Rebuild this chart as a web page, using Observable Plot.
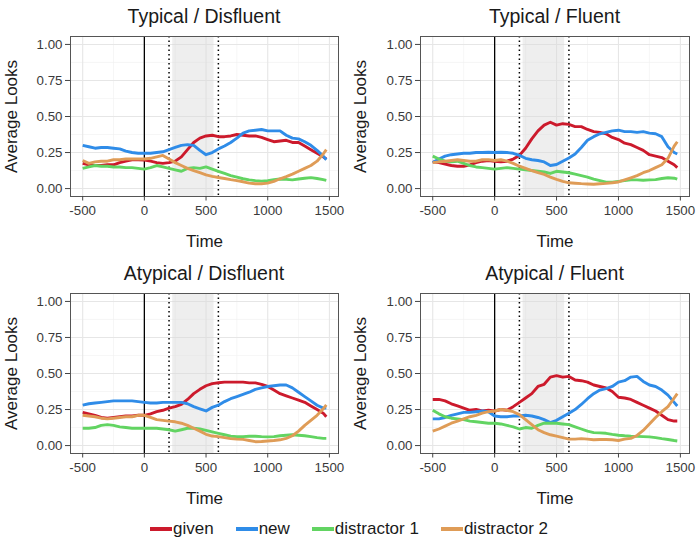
<!DOCTYPE html>
<html><head><meta charset="utf-8">
<script src="https://cdn.jsdelivr.net/npm/d3@7"></script>
<script src="https://cdn.jsdelivr.net/npm/@observablehq/plot@0.6"></script>
<style>
body{margin:0;background:#fff;font-family:"Liberation Sans",Arial,sans-serif;}
#wrap{position:relative;width:698px;height:539px;overflow:hidden;background:#fff;}
.panel{position:absolute;width:349px;height:257px;}
.ptitle{position:absolute;top:5px;font-size:19.5px;line-height:22px;color:#1a1a1a;white-space:nowrap;transform:translateX(-50%);}
.panel svg{position:absolute;top:30px;left:0;}
#legend{position:absolute;top:519px;left:0;width:698px;height:20px;display:flex;justify-content:center;align-items:center;font-size:17px;line-height:20px;color:#1a1a1a;}
.item{display:flex;align-items:center;margin:0 11px;}
.key{display:inline-block;width:22px;height:3.5px;margin-right:1px;}
</style></head>
<body><div id="wrap"></div>
<script>
// ---- data ----
const panels = ["Typical / Disfluent", "Typical / Fluent", "Atypical / Disfluent", "Atypical / Fluent"];
const seriesNames = ["given", "new", "distractor 1", "distractor 2"];
const seriesColors = ["#cc1a2c", "#2f8ce8", "#62d462", "#df9c57"];
const time = [-500,-450,-400,-350,-300,-250,-200,-150,-100,-50,0,50,100,150,200,250,300,350,400,450,500,550,600,650,700,750,800,850,900,950,1000,1050,1100,1150,1200,1250,1300,1350,1400,1450,1475];

const typDisGiven = [.175,.165,.16,.16,.165,.165,.18,.19,.20,.20,.197,.19,.18,.175,.18,.19,.22,.27,.32,.35,.365,.37,.36,.36,.365,.375,.37,.365,.365,.355,.34,.325,.33,.335,.32,.32,.295,.27,.245,.22,.205];
const typDisNew = [.30,.29,.28,.285,.285,.28,.275,.26,.25,.245,.245,.245,.25,.255,.27,.285,.30,.305,.30,.265,.235,.25,.275,.295,.32,.35,.385,.40,.405,.41,.40,.40,.40,.37,.35,.345,.325,.30,.265,.225,.20];
const typDisD1 = [.14,.15,.16,.155,.155,.15,.15,.145,.145,.14,.135,.145,.16,.15,.14,.13,.12,.14,.145,.14,.15,.135,.12,.105,.09,.08,.068,.06,.055,.052,.055,.062,.066,.064,.06,.066,.072,.076,.07,.062,.057];
const typDisD2 = [.195,.175,.185,.19,.19,.20,.20,.205,.205,.205,.205,.21,.22,.23,.205,.18,.16,.14,.125,.11,.095,.085,.077,.07,.062,.055,.047,.038,.033,.033,.038,.05,.068,.083,.10,.12,.14,.16,.19,.24,.27];

const typFluGiven = [.185,.18,.17,.16,.155,.155,.165,.18,.19,.195,.19,.185,.19,.205,.23,.28,.345,.40,.44,.46,.44,.45,.445,.43,.43,.41,.395,.39,.38,.355,.34,.315,.305,.285,.265,.235,.225,.215,.19,.165,.145];
const typFluNew = [.18,.205,.225,.235,.24,.245,.245,.25,.25,.252,.25,.252,.25,.245,.23,.21,.20,.195,.185,.16,.167,.19,.212,.24,.285,.335,.36,.38,.39,.40,.405,.395,.395,.39,.395,.385,.38,.36,.29,.25,.24];
const typFluD1 = [.225,.205,.19,.185,.19,.175,.16,.15,.145,.14,.135,.14,.145,.14,.135,.13,.125,.12,.115,.105,.12,.115,.11,.10,.09,.08,.065,.055,.045,.045,.05,.055,.06,.06,.058,.06,.062,.07,.075,.072,.065];
const typFluD2 = [.18,.185,.19,.195,.20,.195,.19,.19,.20,.20,.195,.20,.19,.175,.155,.14,.125,.11,.098,.08,.064,.05,.04,.037,.034,.032,.03,.033,.036,.04,.046,.06,.075,.09,.11,.125,.145,.165,.21,.295,.325];

const atyDisGiven = [.23,.22,.21,.195,.19,.195,.20,.205,.205,.21,.21,.22,.235,.245,.26,.27,.285,.32,.36,.39,.415,.43,.436,.44,.44,.44,.44,.435,.435,.425,.41,.385,.36,.345,.33,.315,.30,.275,.25,.225,.20];
const atyDisNew = [.28,.29,.295,.30,.305,.31,.31,.31,.31,.305,.30,.295,.295,.30,.30,.30,.30,.29,.27,.255,.24,.265,.28,.305,.325,.34,.355,.37,.39,.40,.41,.415,.42,.42,.40,.37,.34,.31,.28,.26,.26];
const atyDisD1 = [.12,.12,.125,.14,.145,.14,.13,.125,.12,.12,.12,.12,.12,.115,.11,.10,.11,.12,.12,.115,.105,.095,.085,.075,.065,.062,.062,.065,.065,.062,.06,.062,.068,.072,.075,.072,.068,.062,.055,.05,.05];
const atyDisD2 = [.21,.205,.20,.19,.185,.19,.195,.20,.20,.21,.21,.195,.18,.175,.17,.165,.155,.14,.12,.10,.078,.066,.062,.055,.048,.045,.043,.035,.027,.028,.032,.035,.04,.05,.068,.10,.14,.175,.21,.255,.283];

const atyFluGiven = [.32,.32,.31,.29,.275,.26,.245,.25,.24,.245,.24,.25,.245,.27,.30,.33,.36,.41,.425,.475,.485,.475,.48,.455,.45,.44,.42,.41,.40,.375,.335,.33,.32,.30,.28,.26,.24,.21,.18,.17,.17];
const atyFluNew = [.185,.185,.195,.21,.22,.23,.23,.235,.24,.235,.205,.20,.20,.205,.205,.21,.205,.195,.18,.16,.175,.20,.225,.25,.285,.325,.36,.385,.395,.41,.44,.45,.475,.48,.445,.42,.41,.385,.35,.30,.275];
const atyFluD1 = [.245,.22,.20,.19,.185,.18,.17,.165,.16,.155,.155,.15,.14,.13,.115,.125,.12,.14,.155,.155,.155,.15,.145,.13,.115,.10,.09,.088,.085,.078,.072,.068,.065,.064,.062,.06,.055,.048,.042,.035,.032];
const atyFluD2 = [.10,.115,.135,.155,.17,.185,.20,.21,.225,.235,.24,.25,.245,.235,.215,.18,.145,.11,.09,.075,.065,.055,.045,.045,.048,.045,.04,.042,.042,.04,.035,.045,.05,.07,.105,.15,.195,.235,.27,.33,.36];

const panelSeries = [
  [typDisGiven, typDisNew, typDisD1, typDisD2],
  [typFluGiven, typFluNew, typFluD1, typFluD2],
  [atyDisGiven, atyDisNew, atyDisD1, atyDisD2],
  [atyFluGiven, atyFluNew, atyFluD1, atyFluD2]
];

const xTicks = [-500, 0, 500, 1000, 1500];
const xMinor = [-250, 250, 750, 1250];
const yTicks = [0, 0.25, 0.5, 0.75, 1];
const yMinor = [0.125, 0.375, 0.625, 0.875];
const onsetLine = [0];
const windowLines = [200, 600];
const shadeWindow = [[230, 565]];
const xLabel = "Time";
const yLabel = "Average Looks";

// ---- drawing ----
const wrap = document.getElementById("wrap");
const font = "Liberation Sans, Arial, sans-serif";

panels.forEach((name, i) => {
  const col = i % 2, row = Math.floor(i / 2);
  const ml = col === 0 ? 70 : 71, mr = col === 0 ? 11 : 9;
  const rows = [];
  panelSeries[i].forEach((vals, s) => {
    vals.forEach((v, k) => rows.push({time: time[k], value: v, series: seriesNames[s]}));
  });
  const div = document.createElement("div");
  div.className = "panel";
  div.style.left = (col * 349) + "px";
  div.style.top = (row * 257) + "px";
  const t = document.createElement("div");
  t.className = "ptitle";
  t.textContent = name;
  t.style.left = (ml + (349 - ml - mr) / 2) + "px";
  div.appendChild(t);

  const chart = Plot.plot({
    width: 349, height: 222,
    marginLeft: ml, marginRight: mr, marginTop: 6, marginBottom: 56,
    style: {fontFamily: font, background: "transparent", overflow: "visible"},
    x: {domain: [-598.75, 1573.75]},
    y: {domain: [-0.055, 1.055]},
    color: {domain: seriesNames, range: seriesColors},
    marks: [
      Plot.gridX(xMinor, {stroke: "#f0f0f0", strokeOpacity: 1, strokeWidth: 0.6}),
      Plot.gridY(yMinor, {stroke: "#f0f0f0", strokeOpacity: 1, strokeWidth: 0.6}),
      Plot.gridX(xTicks, {stroke: "#e6e6e6", strokeOpacity: 1, strokeWidth: 1.1}),
      Plot.gridY(yTicks, {stroke: "#e6e6e6", strokeOpacity: 1, strokeWidth: 1.1}),
      Plot.rect(shadeWindow, {x1: d => d[0], x2: d => d[1], fill: "#d9d9d9", fillOpacity: 0.45}),
      Plot.ruleX(onsetLine, {stroke: "#000", strokeWidth: 1.3}),
      Plot.ruleX(windowLines, {stroke: "#000", strokeWidth: 1.5, strokeDasharray: "1.5,3"}),
      Plot.line(rows, {x: "time", y: "value", z: "series", stroke: "series", strokeWidth: 2.9, strokeLinejoin: "round", strokeLinecap: "butt"}),
      Plot.frame({stroke: "#555", strokeWidth: 1}),
      Plot.axisX({ticks: xTicks, tickFormat: d => String(d), label: null, tickSize: 4.5, tickPadding: 5, fontSize: 13.3, fill: "#3a3a3a", stroke: "#444"}),
      Plot.axisY({ticks: yTicks, tickFormat: d3.format(".2f"), label: null, tickSize: 5, tickPadding: 3, fontSize: 13.3, fill: "#3a3a3a", stroke: "#444"}),
      Plot.text([xLabel], {frameAnchor: "bottom", dy: 50, lineAnchor: "bottom", textAnchor: "middle", fontSize: 17, fill: "#1a1a1a", text: d => d}),
      Plot.text([yLabel], {frameAnchor: "left", dx: -(ml - 16.7), rotate: -90, lineAnchor: "bottom", textAnchor: "middle", fontSize: 17, fill: "#1a1a1a", text: d => d})
    ]
  });
  div.appendChild(chart);
  wrap.appendChild(div);
});

const legend = document.createElement("div");
legend.id = "legend";
seriesNames.forEach((n, s) => {
  const it = document.createElement("span");
  it.className = "item";
  const k = document.createElement("span");
  k.className = "key";
  k.style.background = seriesColors[s];
  it.appendChild(k);
  it.appendChild(document.createTextNode(n));
  legend.appendChild(it);
});
wrap.appendChild(legend);
</script>
</body></html>
